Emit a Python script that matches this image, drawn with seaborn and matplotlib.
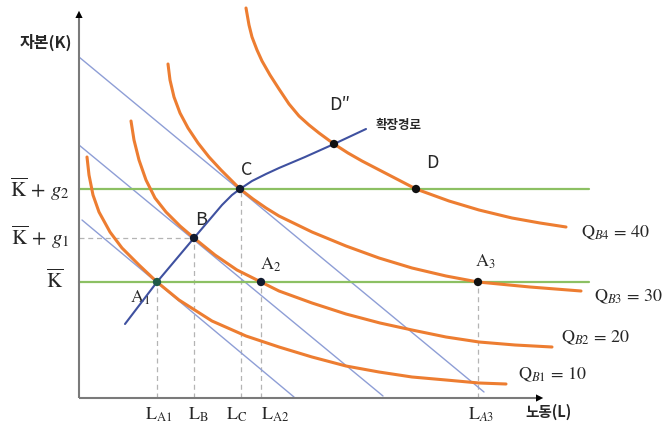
import matplotlib
matplotlib.use("Agg")
import matplotlib.pyplot as plt
import seaborn as sns
import pandas as pd

# ---- data (L = labour, K = capital) ----
isoquant_levels = [10, 20, 30, 40]
qb1_L = [0.8, 1.0, 1.4, 2.0, 3.1, 4.3, 6.0, 7.8, 10.0, 13.3, 16.7, 20.0, 23.3, 26.7, 30.0, 33.3, 36.7, 40.0, 42.7]
qb1_K = [24.1, 22.3, 20.3, 18.6, 16.6, 15.0, 13.3, 11.6, 9.8, 7.7, 6.2, 5.1, 4.1, 3.2, 2.6, 2.1, 1.8, 1.5, 1.4]
qb2_L = [5.2, 5.5, 6.0, 6.7, 7.6, 8.7, 10.1, 11.5, 13.6, 15.8, 18.2, 20.0, 23.3, 26.7, 30.1, 33.3, 36.7, 40.0, 43.6, 47.3]
qb2_K = [27.7, 25.8, 23.8, 21.8, 20.0, 18.6, 17.2, 16.0, 14.3, 12.8, 11.6, 10.7, 9.5, 8.4, 7.5, 6.8, 6.1, 5.6, 5.3, 5.1]
qb3_L = [8.9, 9.1, 9.5, 10.1, 10.9, 11.9, 13.0, 14.2, 15.4, 16.1, 17.4, 18.7, 20.0, 23.3, 26.7, 30.0, 33.3, 36.7, 39.9, 45.1, 50.2]
qb3_K = [33.4, 31.8, 30.1, 28.5, 27.0, 25.5, 24.1, 22.8, 21.6, 20.9, 19.9, 19.0, 18.2, 16.6, 15.2, 14.0, 13.0, 12.2, 11.6, 11.1, 10.7]
qb4_L = [16.7, 17.0, 17.3, 17.8, 18.3, 19.1, 20.0, 21.0, 22.0, 23.0, 24.0, 25.5, 26.9, 28.3, 31.0, 33.7, 37.0, 40.0, 43.3, 46.1, 48.7]
qb4_K = [39.0, 37.3, 36.1, 34.8, 33.7, 32.3, 30.9, 29.4, 28.2, 27.3, 26.5, 25.4, 24.5, 23.7, 22.3, 20.9, 19.7, 18.8, 18.0, 17.5, 17.1]

# isocost lines: (L start, K start, L end, K end)
isocost_L0 = [0.0, 0.0, 0.3]
isocost_K0 = [34.1, 25.3, 17.8]
isocost_L1 = [40.5, 30.4, 21.5]
isocost_K1 = [0.6, 0.2, 0.1]

# expansion path
path_L = [4.6, 7.8, 11.5, 14.3, 15.3, 16.1, 17.3, 18.7, 20.0, 22.6, 25.5, 28.7]
path_K = [7.4, 11.6, 16.0, 19.3, 20.3, 20.9, 21.7, 22.4, 23.0, 24.1, 25.4, 26.9]

# capital levels
k_bar = 11.6
k_g1 = 16.0
k_g2 = 20.9
green_end = 51.0

# labelled points
pt_names = ["A1", "B", "C", "A2", "A3", "D", "D2"]
pt_L = [7.8, 11.5, 16.1, 18.2, 39.9, 33.7, 25.5]
pt_K = [11.6, 16.0, 20.9, 11.6, 11.6, 20.9, 25.4]

x_tick_names = [r"$\mathrm{L_{A1}}$", r"$\mathrm{L_{B}}$", r"$\mathrm{L_{C}}$", r"$\mathrm{L_{A2}}$", r"$\mathrm{L}_{A3}$"]
x_tick_L = [7.8, 11.5, 16.2, 18.2, 39.9]
x_label_pos = [8.0, 11.9, 15.8, 19.6, 40.2]

# ---- styling ----
sns.set_theme(style="white")
plt.rcParams["font.family"] = ["Noto Sans CJK KR", "DejaVu Sans"]
plt.rcParams["mathtext.fontset"] = "stix"
plt.rcParams["lines.solid_joinstyle"] = "round"

ORANGE = "#ED7D31"
GREEN = "#8CC063"
LIGHTBLUE = "#8E9ED6"
NAVY = "#3F51A0"
DASH = "#B4B4B4"

fig = plt.figure(figsize=(6.67, 4.30), dpi=100)
ax = fig.add_axes([0, 0, 1, 1])
ax.set_xlim(-7.9, 58.8)
ax.set_ylim(-3.2, 39.8)
ax.axis("off")

# dashed guides
ax.plot([0, pt_L[1]], [k_g1, k_g1], color=DASH, lw=0.9, ls=(0, (4, 3)), zorder=1)
for xl, yk in zip(x_tick_L, [pt_K[0], pt_K[1], pt_K[2], pt_K[3], pt_K[4]]):
    ax.plot([xl, xl], [0, yk], color=DASH, lw=0.9, ls=(0, (4, 3)), zorder=1)

# isocost lines
for a, b, c, d in zip(isocost_L0, isocost_K0, isocost_L1, isocost_K1):
    sns.lineplot(x=[a, c], y=[b, d], ax=ax, color=LIGHTBLUE, lw=1.0, zorder=2)

# capital levels
for k in [k_bar, k_g2]:
    sns.lineplot(x=[0, green_end], y=[k, k], ax=ax, color=GREEN, lw=1.6, zorder=3)

# isoquants
for Ls, Ks in [(qb1_L, qb1_K), (qb2_L, qb2_K), (qb3_L, qb3_K), (qb4_L, qb4_K)]:
    df = pd.DataFrame({"L": Ls, "K": Ks})
    sns.lineplot(data=df, x="L", y="K", ax=ax, color=ORANGE, lw=2.2,
                 sort=False, estimator=None, zorder=4)

# expansion path
sns.lineplot(x=path_L, y=path_K, ax=ax, color=NAVY, lw=1.5, sort=False,
             estimator=None, zorder=5)

# points
pt_colors = ["#1F5A48", "#111a2e", "#111a2e", "#111a2e", "#111111", "#111111", "#111111"]
sns.scatterplot(x=pt_L, y=pt_K, ax=ax, color=pt_colors, s=36, edgecolor="none",
                zorder=6, legend=False)

# axes with arrows
AX_COL = "#7A7A7A"
ax.plot([0, 0], [0, 38.4], color=AX_COL, lw=1.5, zorder=7, solid_capstyle="butt")
ax.plot([0, 46.2], [0, 0], color=AX_COL, lw=1.5, zorder=7, solid_capstyle="butt")
ax.annotate("", xy=(0, 39.0), xytext=(0, 38.0),
            arrowprops=dict(arrowstyle="-|>", color="black", mutation_scale=13, lw=0), zorder=8)
ax.annotate("", xy=(46.7, 0), xytext=(45.7, 0),
            arrowprops=dict(arrowstyle="-|>", color="black", mutation_scale=13, lw=0), zorder=8)

# axis titles
ax.text(-3.3, 35.6, "자본(K)", fontsize=11.5, fontweight="bold", ha="center", va="center")
ax.text(47.0, -1.4, "노동(L)", fontsize=10.5, fontweight="bold", ha="center", va="center")
ax.text(32.0, 27.3, "확장경로", fontsize=9, fontweight="bold", ha="center", va="center")

# capital tick labels
ax.text(-0.9, k_g2, r"$\overline{\mathrm{K}}\, +\, g_2$", fontsize=15, ha="right", va="center")
ax.text(-0.9, k_g1 + 0.1, r"$\overline{\mathrm{K}}\, +\, g_1$", fontsize=15, ha="right", va="center")
ax.text(-1.6, k_bar + 0.1, r"$\overline{\mathrm{K}}$", fontsize=15, ha="right", va="center")

# labour tick labels
for name, xp in zip(x_tick_names, x_label_pos):
    ax.text(xp, -1.7, name, fontsize=13, ha="center", va="center")

# point labels
ax.text(6.1, 10.0, r"$\mathrm{A_1}$", fontsize=13, ha="center", va="center")
ax.text(19.2, 13.3, r"$\mathrm{A_2}$", fontsize=13, ha="center", va="center")
ax.text(40.6, 13.6, r"$\mathrm{A_3}$", fontsize=13, ha="center", va="center")
ax.text(12.2, 17.8, "B", fontsize=13, ha="center", va="center")
ax.text(16.8, 22.8, "C", fontsize=13, ha="center", va="center")
ax.text(35.3, 23.5, "D", fontsize=13, ha="center", va="center")
ax.text(26.1, 29.3, "D\u2033", fontsize=13, ha="center", va="center")

# isoquant labels
q_label_L = [43.9, 48.2, 51.5, 50.2]
q_label_K = [2.3, 6.0, 10.1, 16.5]
for lvl, i, xl, yk in zip(isoquant_levels, range(1, 5), q_label_L, q_label_K):
    ax.text(xl, yk, r"$\mathrm{Q}_{B%d}\,=\,%d$" % (i, lvl), fontsize=13, ha="left", va="center")

fig.savefig("out.png", dpi=100)
